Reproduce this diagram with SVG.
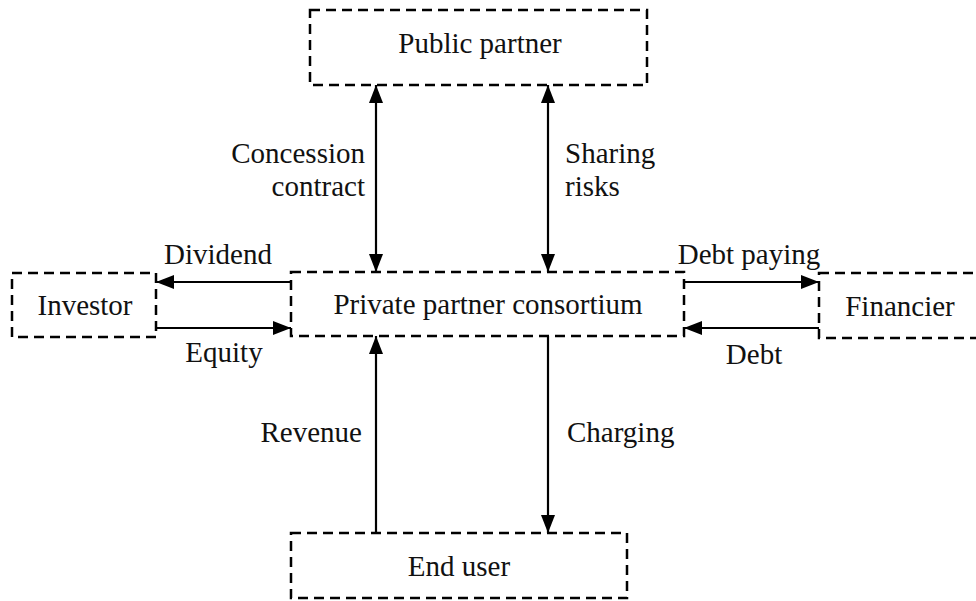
<svg xmlns="http://www.w3.org/2000/svg" width="976" height="601" viewBox="0 0 976 601">
<style>
.box{fill:none;stroke:#000;stroke-width:2.5;stroke-dasharray:10 6}
.t{font-family:"Liberation Serif","Times New Roman",serif;font-size:29px;fill:#111}
.c{text-anchor:middle}
.e{text-anchor:end}
.ln{stroke:#000;stroke-width:2.2;fill:none}
</style>
<defs>
<marker id="ah" viewBox="0 0 18 14" refX="18" refY="7" markerWidth="18" markerHeight="14" markerUnits="userSpaceOnUse" orient="auto-start-reverse">
<path d="M0,0 L18,7 L0,14 Z" fill="#000"/>
</marker>
</defs>
<rect width="976" height="601" fill="#fff"/>
<g id="public"><rect class="box" x="310" y="10" width="337" height="75"/><text class="t c" x="480" y="53">Public partner</text></g>
<g id="private"><rect class="box" x="291" y="272" width="393" height="64"/><text class="t c" x="488" y="314">Private partner consortium</text></g>
<g id="investor"><rect class="box" x="12" y="273" width="144" height="64"/><text class="t c" x="85" y="315">Investor</text></g>
<g id="financier"><rect class="box" x="819" y="273" width="160" height="65"/><text class="t c" x="900" y="316">Financier</text></g>
<g id="enduser"><rect class="box" x="291" y="533" width="336" height="65"/><text class="t c" x="459" y="576">End user</text></g>
<g id="connectors">
<line class="ln" x1="376" y1="85" x2="376" y2="272" marker-start="url(#ah)" marker-end="url(#ah)"/>
<line class="ln" x1="548" y1="85" x2="548" y2="272" marker-start="url(#ah)" marker-end="url(#ah)"/>
<line class="ln" x1="291" y1="282" x2="156" y2="282" marker-end="url(#ah)"/>
<line class="ln" x1="156" y1="328" x2="291" y2="328" marker-end="url(#ah)"/>
<line class="ln" x1="684" y1="282" x2="819" y2="282" marker-end="url(#ah)"/>
<line class="ln" x1="819" y1="328" x2="684" y2="328" marker-end="url(#ah)"/>
<line class="ln" x1="376" y1="533" x2="376" y2="336" marker-end="url(#ah)"/>
<line class="ln" x1="548" y1="336" x2="548" y2="533" marker-end="url(#ah)"/>
<text class="t e" x="365" y="163">Concession</text>
<text class="t e" x="365" y="196">contract</text>
<text class="t" x="565" y="163">Sharing</text>
<text class="t" x="565" y="196">risks</text>
<text class="t c" x="218" y="264">Dividend</text>
<text class="t c" x="224" y="362">Equity</text>
<text class="t c" x="749" y="264">Debt paying</text>
<text class="t c" x="754" y="364">Debt</text>
<text class="t e" x="362" y="442">Revenue</text>
<text class="t" x="567" y="442">Charging</text>
</g>
</svg>
